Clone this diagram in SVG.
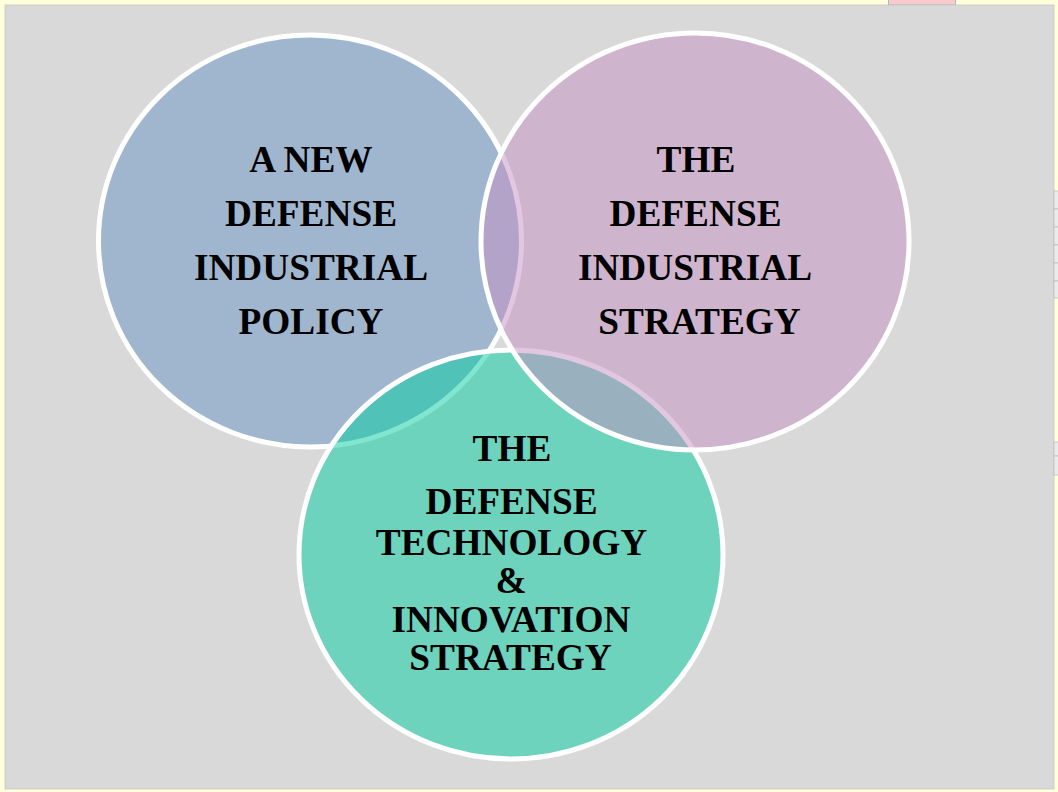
<svg xmlns="http://www.w3.org/2000/svg" width="1058" height="792" viewBox="0 0 1058 792">
<style>
  .circ { stroke: #FFFFFF; stroke-width: 5; fill-opacity: 0.5; }
  .lbl { font-family: "Liberation Serif", "Times New Roman", serif; font-weight: bold; font-size: 37.3px; fill: #000000; text-anchor: middle; }
  .tab { fill: #EBEBEB; stroke: #BDBDBD; stroke-width: 0.8; }
</style>
<rect x="0" y="0" width="1058" height="792" fill="#FFFFDC"/>
<rect x="888.5" y="-1" width="67" height="6" fill="#F8CACA" stroke="#A8A8A8" stroke-width="0.8"/>
<rect x="5" y="5" width="1049" height="784" fill="#D9D9D9" stroke="#C6C6C6" stroke-width="0.8"/>
<g id="tabs">
  <rect class="tab" x="1054" y="191" width="5" height="18"/>
  <rect class="tab" x="1054" y="209" width="5" height="18"/>
  <rect class="tab" x="1054" y="227" width="5" height="18"/>
  <rect class="tab" x="1054" y="245" width="5" height="18"/>
  <rect class="tab" x="1054" y="263" width="5" height="18"/>
  <rect class="tab" x="1054" y="281" width="5" height="17"/>
  <rect class="tab" x="1054" y="442" width="5" height="14"/>
  <rect class="tab" x="1054" y="456" width="5" height="19" fill="#F5F5F5"/>
</g>
<g id="connectors"></g>
<g id="node-policy">
  <ellipse class="circ" cx="310" cy="241" rx="211.5" ry="206" fill="#6793C3"/>
  <text class="lbl" x="311" y="172">A NEW</text>
  <text class="lbl" x="311" y="226">DEFENSE</text>
  <text class="lbl" x="311" y="280">INDUSTRIAL</text>
  <text class="lbl" x="311" y="334">POLICY</text>
</g>
<g id="node-technology">
  <ellipse class="circ" cx="511" cy="554.5" rx="212" ry="204.5" fill="#01CD9F"/>
  <text class="lbl" x="512" y="461">THE</text>
  <text class="lbl" x="511.5" y="514">DEFENSE</text>
  <text class="lbl" x="511.5" y="555">TECHNOLOGY</text>
  <text class="lbl" x="511" y="593">&amp;</text>
  <text class="lbl" x="511" y="632">INNOVATION</text>
  <text class="lbl" x="510.5" y="670">STRATEGY</text>
</g>
<g id="node-industrial">
  <ellipse class="circ" cx="695" cy="241.5" rx="214" ry="208.5" fill="#C58FC1"/>
  <text class="lbl" x="696" y="172">THE</text>
  <text class="lbl" x="695.5" y="226">DEFENSE</text>
  <text class="lbl" x="695" y="280">INDUSTRIAL</text>
  <text class="lbl" x="699.5" y="334">STRATEGY</text>
</g>
</svg>
